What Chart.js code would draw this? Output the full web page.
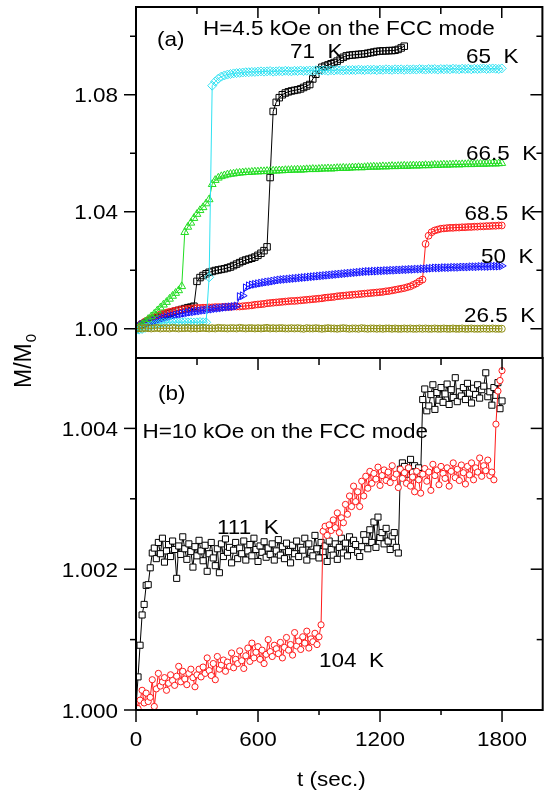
<!DOCTYPE html>
<html><head><meta charset="utf-8">
<script src="https://cdn.jsdelivr.net/npm/chart.js@4.4.1/dist/chart.umd.min.js"></script>
<style>
html,body{margin:0;padding:0;background:#fff;}
#wrap{position:relative;width:548px;height:794px;overflow:hidden;}
canvas{position:absolute;left:0;top:0;}
</style></head><body>
<div id="wrap"><canvas id="ca" width="548" height="794"></canvas><canvas id="cb" width="548" height="794"></canvas></div>
<script>
// ---------- time grids (s) ----------
const tA = [0,15,30,45,60,75,90,105,120,135,150,165,180,195,210,225,240,255,270,285,300,315,330,345,360,375,390,405,420,435,450,465,480,495,510,525,540,555,570,585,600,615,630,645,660,675,690,705,720,735,750,765,780,795,810,825,840,855,870,885,900,915,930,945,960,975,990,1005,1020,1035,1050,1065,1080,1095,1110,1125,1140,1155,1170,1185,1200,1215,1230,1245,1260,1275,1290,1305,1320,1335,1350,1365,1380,1395,1410,1425,1440,1455,1470,1485,1500,1515,1530,1545,1560,1575,1590,1605,1620,1635,1650,1665,1680,1695,1710,1725,1740,1755,1770,1785,1800];
const tB = [0,10,20,30,40,50,60,70,80,90,100,110,120,130,140,150,160,170,180,190,200,210,220,230,240,250,260,270,280,290,300,310,320,330,340,350,360,370,380,390,400,410,420,430,440,450,460,470,480,490,500,510,520,530,540,550,560,570,580,590,600,610,620,630,640,650,660,670,680,690,700,710,720,730,740,750,760,770,780,790,800,810,820,830,840,850,860,870,880,890,900,910,920,930,940,950,960,970,980,990,1000,1010,1020,1030,1040,1050,1060,1070,1080,1090,1100,1110,1120,1130,1140,1150,1160,1170,1180,1190,1200,1210,1220,1230,1240,1250,1260,1270,1280,1290,1300,1310,1320,1330,1340,1350,1360,1370,1380,1390,1400,1410,1420,1430,1440,1450,1460,1470,1480,1490,1500,1510,1520,1530,1540,1550,1560,1570,1580,1590,1600,1610,1620,1630,1640,1650,1660,1670,1680,1690,1700,1710,1720,1730,1740,1750,1760,1770,1780,1790,1800];

// ---------- panel (a): H = 4.5 kOe, M/M0 ----------
const m65 = [0.9995,0.9997,0.9999,1.0003,1.0007,1.0010,1.0013,1.0016,1.0019,1.0021,
1.0021,1.0022,1.0023,1.0022,1.0021,1.0022,1.0023,1.0022,1.0022,1.0021,
1.0022,1.0023,1.0022,1.0022,1.0176,1.0831,1.0845,1.0855,1.0862,1.0866,
1.0869,1.0871,1.0873,1.0874,1.0875,1.0876,1.0877,1.0877,1.0878,1.0878,
1.0879,
1.0880,1.0879,1.0880,1.0881,1.0879,1.0880,1.0881,1.0880,1.0882,1.0881,
1.0880,1.0882,1.0881,1.0883,1.0881,1.0882,1.0883,1.0882,1.0884,1.0882,
1.0883,1.0884,1.0882,1.0884,1.0883,1.0885,1.0884,1.0883,1.0885,1.0884,
1.0885,1.0884,1.0886,1.0885,1.0884,1.0886,1.0885,1.0886,1.0884,1.0886,
1.0885,1.0887,1.0886,1.0885,1.0887,1.0886,1.0887,1.0885,1.0887,1.0886,
1.0887,1.0886,1.0888,1.0887,1.0886,1.0888,1.0887,1.0888,1.0886,1.0888,
1.0887,1.0888,1.0887,1.0889,1.0888,1.0887,1.0889,1.0888,1.0889,1.0887,
1.0889,1.0888,1.0889,1.0890,1.0888,1.0889,1.0890,1.0889,1.0888,1.0890];

const m665 = [1.0000,1.0006,1.0015,1.0024,1.0033,1.0042,1.0051,1.0062,1.0072,1.0082,
1.0091,1.0102,1.0112,1.0122,1.0131,1.0145,1.0330,1.0348,1.0362,1.0378,
1.0392,1.0405,1.0415,1.0428,1.0442,1.0494,1.0508,1.0516,1.0521,1.0524,
1.0527,1.0529,1.0530,1.0532,1.0533,
1.0534,1.0535,1.0535,1.0536,1.0537,1.0537,1.0538,1.0538,1.0539,1.0539,
1.0540,1.0540,1.0541,1.0541,1.0542,1.0542,1.0543,1.0543,1.0544,1.0543,
1.0544,1.0545,1.0545,1.0546,1.0545,1.0546,1.0547,1.0547,1.0548,1.0547,
1.0548,1.0549,1.0549,1.0550,1.0549,1.0550,1.0551,1.0551,1.0552,1.0551,
1.0552,1.0553,1.0553,1.0554,1.0553,1.0554,1.0555,1.0554,1.0555,1.0556,
1.0555,1.0556,1.0556,1.0557,1.0556,1.0557,1.0558,1.0557,1.0558,1.0558,
1.0559,1.0558,1.0559,1.0560,1.0559,1.0560,1.0561,1.0560,1.0561,1.0561,
1.0562,1.0561,1.0562,1.0562,1.0563,1.0562,1.0563,1.0563,1.0564,1.0563,
1.0564,1.0564,1.0565,1.0564,1.0565,1.0566];

const m71 = [1.0000,1.0008,1.0015,1.0020,1.0025,1.0030,1.0034,1.0038,1.0042,1.0046,
1.0050,1.0053,1.0056,1.0060,1.0063,1.0066,1.0069,1.0072,1.0074,1.0077,
1.0162,1.0175,1.0182,1.0188,1.0193,1.0196,1.0199,1.0201,1.0203,1.0205,
1.0208,1.0211,1.0216,1.0221,1.0226,1.0231,1.0235,1.0238,1.0241,1.0245,
1.0251,1.0258,1.0267,1.0280,1.0517,1.0743,1.0774,1.0790,1.0800,1.0806,
1.0810,1.0813,1.0815,1.0817,1.0820,1.0825,1.0830,1.0835,1.0854,1.0870,
1.0885,1.0894,1.0898,1.0902,1.0906,1.0910,1.0915,1.0922,1.0928,1.0933,
1.0935,1.0936,1.0937,1.0938,1.0939,1.0940,1.0942,1.0944,1.0946,1.0948,
1.0949,1.0950,1.0950,1.0951,1.0951,1.0952,1.0955,1.0960,1.0966];

const m685 = [1.0000,1.0010,1.0018,1.0025,1.0030,1.0036,1.0040,1.0045,1.0049,1.0052,
1.0055,1.0058,1.0060,1.0062,1.0064,1.0066,1.0067,1.0068,1.0069,1.0070,1.0071,
1.0071,1.0072,1.0072,1.0073,1.0073,1.0074,1.0074,1.0074,1.0075,1.0075,1.0075,1.0076,1.0076,1.0076,1.0077,
1.0078,1.0079,1.0080,1.0082,1.0083,1.0084,1.0085,1.0087,1.0088,
1.0089,1.0090,1.0091,1.0092,1.0093,1.0094,1.0095,1.0095,1.0096,1.0097,1.0098,1.0099,
1.0100,1.0101,1.0102,1.0103,1.0104,1.0106,1.0107,1.0108,1.0109,1.0111,
1.0112,1.0113,1.0114,1.0115,1.0116,1.0117,1.0118,1.0119,1.0120,1.0121,1.0122,1.0123,1.0124,1.0125,1.0126,1.0128,
1.0129,1.0131,1.0133,1.0135,1.0137,1.0139,1.0142,
1.0145,1.0150,1.0155,1.0162,1.0168,
1.0290,1.0318,1.0330,1.0336,1.0339,1.0342,
1.0343,1.0344,1.0345,1.0345,1.0346,1.0346,1.0347,1.0347,1.0348,1.0348,
1.0349,1.0349,1.0350,1.0350,1.0351,1.0351,1.0352,1.0352,1.0353,1.0353];

const m50 = [1.0000,1.0008,1.0014,1.0018,1.0021,1.0024,1.0027,1.0030,1.0033,1.0036,
1.0039,1.0042,1.0044,1.0047,1.0049,1.0051,1.0053,1.0055,1.0057,1.0058,
1.0060,1.0061,1.0063,1.0064,1.0066,1.0067,1.0069,1.0070,1.0071,1.0073,
1.0074,1.0075,1.0076,1.0078,1.0110,1.0113,1.0140,1.0147,
1.0150,1.0152,1.0154,1.0156,1.0158,1.0160,1.0161,1.0163,1.0165,1.0167,
1.0168,1.0169,1.0170,1.0171,1.0172,1.0173,1.0174,1.0175,1.0176,1.0177,
1.0178,1.0179,1.0180,1.0181,1.0182,1.0183,1.0184,1.0185,1.0186,1.0187,
1.0188,1.0189,1.0190,1.0191,1.0192,1.0193,1.0194,1.0195,1.0196,1.0196,
1.0197,1.0197,1.0198,1.0198,1.0199,1.0199,1.0200,1.0200,1.0201,1.0201,
1.0202,1.0202,1.0203,1.0203,1.0204,1.0204,1.0205,1.0205,1.0206,1.0207,1.0208,
1.0208,1.0208,1.0209,1.0209,1.0209,1.0210,1.0210,1.0210,1.0211,1.0211,1.0211,
1.0212,1.0212,1.0212,1.0213,1.0213,1.0213,1.0213,1.0214,1.0214,1.0214,1.0215];

const m265 = [1.0000,1.0002,1.0001,1.0003,1.0002,1.0001,1.0002,1.0003,1.0001,1.0002,
1.0002,1.0001,1.0003,1.0002,1.0001,1.0002,1.0002,1.0003,1.0001,1.0002,
1.0001,1.0002,1.0003,1.0002,1.0001,1.0002,1.0001,1.0003,1.0002,1.0002,
1.0001,1.0002,1.0002,1.0001,1.0003,1.0002,1.0001,1.0002,1.0002,1.0001,
1.0002,1.0001,1.0002,1.0003,1.0001,1.0002,1.0001,1.0002,1.0002,1.0001,
1.0001,1.0002,1.0001,1.0002,1.0001,1.0000,1.0002,1.0001,1.0001,1.0002,
1.0001,1.0000,1.0001,1.0002,1.0001,1.0001,1.0000,1.0001,1.0002,1.0001,
1.0000,1.0001,1.0001,1.0000,1.0002,1.0001,1.0000,1.0001,1.0001,1.0000,
1.0001,1.0000,1.0001,1.0001,1.0000,1.0001,1.0000,1.0000,1.0001,1.0000,
1.0001,1.0000,1.0000,1.0001,1.0000,1.0001,1.0000,1.0000,1.0001,1.0000,
1.0000,1.0001,1.0000,1.0000,1.0001,1.0000,1.0000,1.0001,1.0000,1.0000,
1.0001,1.0000,1.0000,1.0000,1.0001,1.0000,1.0000,1.0001,1.0000,1.0000,
1.0000];

// ---------- panel (b): H = 10 kOe ----------
const b111 = [1.00002,1.00047,1.00092,1.00135,1.00150,1.00177,1.00178,1.00202,1.00223,
1.00230,1.00215,1.00238,1.00222,1.00244,1.00210,1.00226,1.00235,1.00218,1.00240,
1.00228,1.00187,1.00233,1.00221,1.00246,1.00229,1.00214,1.00236,1.00225,1.00203,
1.00232,1.00219,1.00241,1.00226,1.00212,1.00234,1.00197,1.00222,1.00238,1.00216,
1.00205,1.00229,1.00195,1.00236,1.00218,1.00243,1.00224,1.00231,1.00209,1.00227,
1.00238,1.00215,1.00230,1.00222,1.00240,1.00213,1.00226,1.00235,1.00219,1.00244,
1.00228,1.00211,1.00233,1.00224,1.00239,1.00217,1.00230,1.00221,1.00236,1.00213,
1.00226,1.00242,1.00220,1.00232,1.00215,1.00237,1.00225,1.00209,1.00234,1.00222,
1.00240,1.00218,1.00231,1.00227,1.00244,1.00213,1.00236,1.00224,1.00219,1.00248,
1.00229,1.00216,1.00238,1.00225,1.00233,1.00211,1.00240,1.00228,1.00220,1.00236,
1.00214,1.00231,1.00244,1.00223,1.00237,1.00219,1.00246,1.00228,1.00241,1.00235,
1.00224,1.00218,1.00232,1.00249,1.00241,1.00229,1.00256,1.00238,1.00267,1.00231,
1.00274,1.00245,1.00252,1.00236,1.00258,1.00240,1.00228,1.00247,1.00252,1.00231,1.00223,
1.00342,1.00351,1.00346,1.00335,1.00342,1.00356,1.00338,1.00347,1.00331,1.00344,1.00336,
1.00441,1.00456,1.00425,1.00432,1.00448,1.00462,1.00427,1.00451,1.00440,1.00458,
1.00437,1.00449,1.00463,1.00434,1.00455,1.00444,1.00472,1.00438,1.00452,1.00446,
1.00458,1.00441,1.00464,1.00450,1.00436,1.00457,1.00448,1.00462,1.00443,1.00455,
1.00460,1.00479,1.00445,1.00452,1.00433,1.00458,1.00447,1.00465,1.00428,1.00439];

const b104 = [1.00012,1.00002,1.00014,1.00028,1.00010,1.00024,1.00012,1.00018,1.00043,1.00005,
1.00030,1.00052,1.00034,1.00040,1.00046,1.00028,1.00038,1.00050,1.00042,1.00035,
1.00048,1.00062,1.00040,1.00055,1.00044,1.00036,1.00052,1.00058,1.00046,1.00033,
1.00050,1.00058,1.00047,1.00061,1.00052,1.00074,1.00056,1.00049,1.00066,1.00043,
1.00076,1.00058,1.00064,1.00071,1.00055,1.00068,1.00062,1.00081,1.00060,1.00072,
1.00066,1.00084,1.00070,1.00059,1.00077,1.00088,1.00069,1.00095,1.00074,1.00082,
1.00090,1.00072,1.00085,1.00066,1.00079,1.00100,1.00083,1.00076,1.00092,1.00087,
1.00080,1.00096,1.00074,1.00089,1.00103,1.00085,1.00093,1.00078,1.00110,1.00091,
1.00098,1.00086,1.00104,1.00095,1.00112,1.00088,1.00101,1.00097,1.00109,1.00093,
1.00104,1.00121,1.00254,
1.00261,1.00248,1.00263,1.00255,1.00270,1.00259,1.00280,1.00252,1.00273,1.00266,
1.00292,1.00278,1.00304,1.00289,1.00318,1.00296,1.00310,1.00289,1.00325,1.00304,
1.00332,1.00315,1.00339,1.00322,1.00336,1.00328,1.00345,1.00319,1.00333,1.00341,
1.00326,1.00338,1.00323,1.00347,1.00330,1.00335,1.00316,1.00342,1.00329,1.00337,
1.00322,1.00344,1.00318,1.00331,1.00310,1.00339,1.00327,1.00308,1.00335,1.00343,
1.00325,1.00338,1.00312,1.00349,1.00333,1.00341,1.00320,1.00346,1.00336,1.00329,
1.00344,1.00318,1.00339,1.00351,1.00330,1.00342,1.00326,1.00348,1.00337,1.00321,
1.00346,1.00334,1.00351,1.00327,1.00344,1.00338,1.00358,1.00332,1.00347,1.00340,
1.00355,1.00333,1.00338,1.00327,
1.00406,1.00453,1.00468,1.00482];

// ---------- axes / ticks ----------
const xMajor = [0,600,1200,1800];
const xMinor = [300,900,1500];
const xLabels = ['0','600','1200','1800'];
const yMajorA = [1.00,1.04,1.08];
const yMinorA = [1.02,1.06,1.10];
const yLabelsA = ['1.00','1.04','1.08'];
const yMajorB = [1.000,1.002,1.004];
const yMinorB = [1.001,1.003];
const yLabelsB = ['1.000','1.002','1.004'];

const FONT = '"Liberation Sans", Arial, Helvetica, sans-serif';
function txt(ctx, s, x, y, align, size, sx) {
  size = size || 21; sx = sx || 1.07; align = align || 'left';
  ctx.save();
  ctx.font = size + 'px ' + FONT;
  ctx.fillStyle = '#000';
  ctx.textBaseline = 'alphabetic';
  const w = ctx.measureText(s).width * sx;
  let x0 = x;
  if (align === 'right') x0 = x - w; else if (align === 'center') x0 = x - w / 2;
  ctx.translate(x0, y); ctx.scale(sx, 1); ctx.fillText(s, 0, 0);
  ctx.restore();
}
function seg(ctx, x1, y1, x2, y2) { ctx.beginPath(); ctx.moveTo(x1, y1); ctx.lineTo(x2, y2); ctx.stroke(); }

function frameAndTicks(chart, yMaj, yMin, yLab, topMaj, bottomTicks) {
  const {ctx, chartArea: a, scales: {x, y}} = chart;
  ctx.save();
  ctx.strokeStyle = '#000';
  ctx.lineWidth = 1.5;
  yMaj.forEach(v => { const p = y.getPixelForValue(v); seg(ctx, a.left - 12, p, a.left, p); seg(ctx, a.right - 12, p, a.right, p); });
  yMin.forEach(v => { const p = y.getPixelForValue(v); seg(ctx, a.left - 6, p, a.left, p); seg(ctx, a.right - 6, p, a.right, p); });
  xMajor.forEach(v => { const p = x.getPixelForValue(v); seg(ctx, p, a.top, p, a.top + topMaj); });
  xMinor.forEach(v => { const p = x.getPixelForValue(v); seg(ctx, p, a.top, p, a.top + 7); });
  if (bottomTicks) {
    xMajor.forEach(v => { const p = x.getPixelForValue(v); seg(ctx, p, a.bottom, p, a.bottom + 12); });
    xMinor.forEach(v => { const p = x.getPixelForValue(v); seg(ctx, p, a.bottom, p, a.bottom + 5); });
  }
  ctx.lineWidth = 2;
  ctx.strokeRect(a.left, a.top, a.right - a.left, a.bottom - a.top);
  ctx.restore();
  yMaj.forEach((v, k) => txt(ctx, yLab[k], 118, y.getPixelForValue(v) + 7.5, 'right'));
  if (bottomTicks) xMajor.forEach((v, k) => txt(ctx, xLabels[k], x.getPixelForValue(v), 746, 'center'));
}

function ser(ts, vs) { return vs.map((v, k) => ({x: ts[k], y: v})); }
function ds(label, ts, vs, color, style, r, rot, fillCol) {
  return {label, data: ser(ts, vs), borderColor: color, backgroundColor: color, borderWidth: 1,
    pointStyle: style, pointRadius: r, pointHoverRadius: r, pointBorderColor: color,
    pointBackgroundColor: fillCol || 'rgba(255,255,255,0)', pointBorderWidth: 1, pointRotation: rot || 0,
    fill: false, tension: 0};
}
function opts(padTop, padBottom, yMin, yMax) {
  return {
    responsive: false, maintainAspectRatio: false, animation: false, devicePixelRatio: 1,
    layout: {padding: {left: 136, right: -2, top: padTop, bottom: padBottom}},
    plugins: {legend: {display: false}, tooltip: {enabled: false}},
    events: [],
    scales: {
      x: {type: 'linear', min: 0, max: 2000, display: false},
      y: {type: 'linear', min: yMin, max: yMax, display: false}
    }
  };
}

const decoA = {id: 'decoA', afterDraw(chart) {
  const ctx = chart.ctx;
  frameAndTicks(chart, yMajorA, yMinorA, yLabelsA, 11, false);
  txt(ctx, '(a)', 157, 46);
  txt(ctx, 'H=4.5 kOe on the FCC mode', 203, 35);
  txt(ctx, '71  K', 290, 58);
  txt(ctx, '65  K', 466, 63);
  txt(ctx, '66.5  K', 466, 160);
  txt(ctx, '68.5  K', 464.5, 220);
  txt(ctx, '50  K', 481, 263);
  txt(ctx, '26.5  K', 464, 321.5);
}};

const decoB = {id: 'decoB', afterDraw(chart) {
  const ctx = chart.ctx;
  frameAndTicks(chart, yMajorB, yMinorB, yLabelsB, 12, true);
  txt(ctx, '(b)', 158, 400);
  txt(ctx, 'H=10 kOe on the FCC mode', 142.5, 438);
  txt(ctx, '111  K', 217, 534);
  txt(ctx, '104  K', 319, 666.5);
  txt(ctx, 't (sec.)', 297, 786);
  // y title M/M0 (rotated)
  ctx.save();
  ctx.fillStyle = '#000';
  ctx.translate(31, 388);
  ctx.rotate(-Math.PI / 2);
  ctx.font = '23px ' + FONT;
  ctx.textBaseline = 'alphabetic';
  ctx.fillText('M/M', 0, 0);
  const w = ctx.measureText('M/M').width;
  ctx.font = '15px ' + FONT;
  ctx.fillText('0', w + 1, 5);
  ctx.restore();
}};

new Chart(document.getElementById('ca'), {
  type: 'line',
  data: {datasets: [
    ds('26.5 K', tA, m265, '#8e8e12', 'circle', 3.5),
    ds('65 K', tA, m65, '#30e2f2', 'rectRot', 4.5),
    ds('66.5 K', tA, m665, '#22dd22', 'triangle', 4.5),
    ds('50 K', tA, m50, '#1414ff', 'triangle', 4.5, 90),
    ds('68.5 K', tA, m685, '#ff1a1a', 'circle', 3.4),
    ds('71 K', tA, m71, '#000000', 'rect', 4.6)
  ]},
  options: opts(7, 436, 0.99, 1.11),
  plugins: [decoA]
});

new Chart(document.getElementById('cb'), {
  type: 'line',
  data: {datasets: [
    ds('104 K', tB, b104, '#ff1a1a', 'circle', 3.1, 0, '#ffffff'),
    ds('111 K', tB, b111, '#000000', 'rect', 4.3, 0, '#ffffff')
  ]},
  options: opts(358, 84, 1.000, 1.005),
  plugins: [decoB]
});
</script>
</body></html>
